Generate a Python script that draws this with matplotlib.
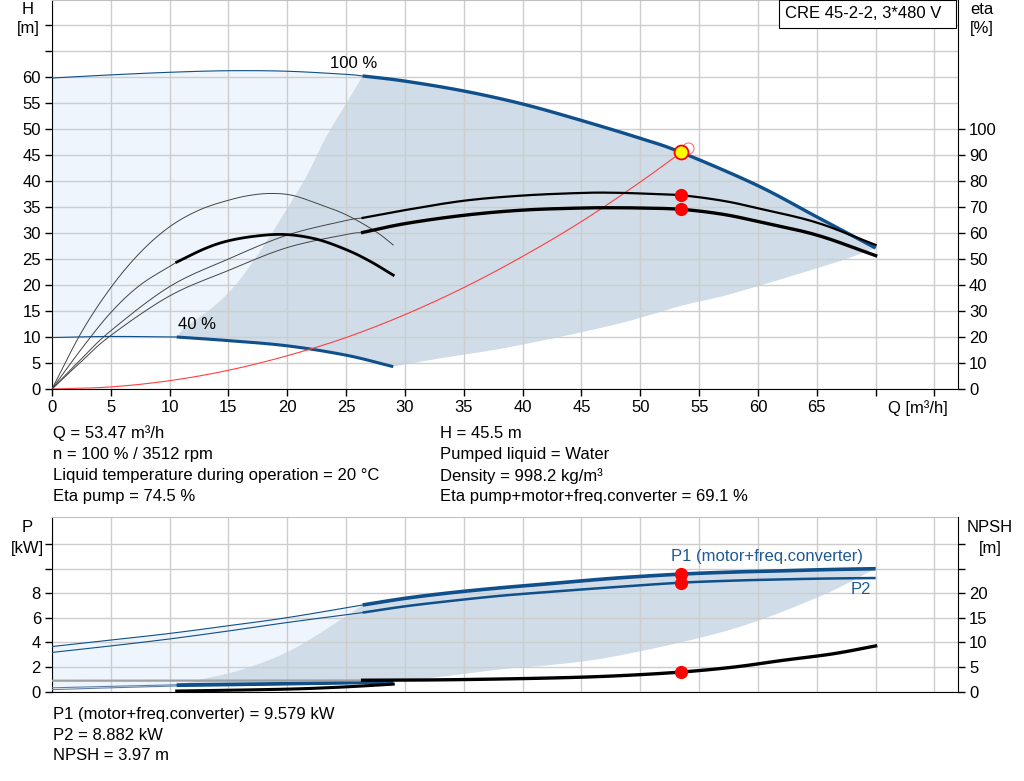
import matplotlib
matplotlib.use("Agg")
import matplotlib.pyplot as plt
from matplotlib.patches import Rectangle
import numpy as np

plt.rcParams['font.family'] = ['Liberation Sans', 'DejaVu Sans']

# ---------------- data: top chart (Q in m3/h, H in m, eta in %) ----------------
qh100_thin_q = [0, 5, 10, 15, 20, 25, 26.4]
qh100_thin_h = [59.8, 60.4, 60.9, 61.2, 61.1, 60.5, 60.2]
qh100_q = [26.4, 30, 35, 40, 44.9, 50, 53.47, 59.9, 65, 70]
qh100_h = [60.2, 59.2, 57.3, 54.8, 51.7, 48.2, 45.5, 39.2, 33.1, 27.1]

qh40_thin_q = [0, 5, 10.6]
qh40_thin_h = [9.9, 10.1, 10.0]
qh40_q = [10.6, 15, 20, 25, 29]
qh40_h = [10.0, 9.3, 8.3, 6.5, 4.3]

minflow_q = [10.6, 11.4, 13.7, 15.7, 17.95, 19.9, 21.6, 23.3, 25.0, 26.4]
minflow_h = [10.0, 12.0, 15.8, 20.3, 27.4, 34.4, 40.8, 48.5, 54.9, 60.2]
maxflow_q = [29, 33, 39, 47.7, 53.5, 57.9, 66.4, 70]
maxflow_h = [4.3, 5.9, 8.1, 12.3, 16.0, 18.4, 24.2, 27.1]

etap100_thin_q = [0, 2.5, 5, 10, 15, 20, 25, 26.4]
etap100_thin = [0, 11.6, 22.4, 39.4, 50.0, 59.2, 64.8, 65.8]
etap100_q = [26.4, 30, 35, 40, 45, 47.5, 50, 53.47, 57, 60, 65, 70]
etap100 = [65.8, 68.8, 72.4, 74.4, 75.4, 75.5, 75.2, 74.5, 72.4, 69.5, 64.0, 55.4]

etat100_thin_q = [0, 2.5, 5, 10, 15, 20, 25, 26.4]
etat100_thin = [0, 10.6, 20.6, 35.8, 45.6, 54.4, 59.4, 60.2]
etat100_q = [26.4, 30, 35, 40, 45, 47.5, 50, 53.47, 57, 60, 65, 70]
etat100 = [60.2, 63.6, 66.8, 68.8, 69.6, 69.7, 69.6, 69.1, 67.2, 64.4, 59.2, 51.3]

etap40_q = [0, 2.5, 5, 7.5, 10, 12.5, 15, 17, 18.8, 20.5, 22.5, 25, 27.5, 29]
etap40 = [0, 21.8, 39.0, 52.5, 62.4, 68.8, 72.6, 74.6, 75.2, 74.4, 71.4, 67.0, 60.6, 55.4]

etat40_thin_q = [0, 2.5, 5, 7.5, 10.6]
etat40_thin = [0, 15.4, 29.4, 40.0, 48.8]
etat40_q = [10.6, 13, 15, 17.5, 19.9, 22.5, 25, 27, 29]
etat40 = [48.8, 54.0, 57.0, 58.9, 59.4, 57.6, 53.6, 49.2, 43.8]

sys_q = [0, 5, 10, 15, 20, 25, 30, 35, 40, 45, 50, 53.47, 53.9]
sys_h = [0, 0.4, 1.6, 3.6, 6.4, 9.9, 14.3, 19.5, 25.5, 32.2, 39.8, 45.5, 46.2]

op_q = 53.47
op_h = 45.5
op_eta_pump = 74.5
op_eta_total = 69.1

# ---------------- data: bottom chart (P in kW, NPSH in m) ----------------
p1_thin_q = [0, 5, 10, 15, 20, 26.4]
p1_thin = [3.67, 4.2, 4.74, 5.37, 6.03, 7.06]
p1_q = [26.4, 30, 33.8, 38, 42.3, 48, 53.47, 58, 62.1, 66, 70]
p1 = [7.06, 7.6, 8.05, 8.45, 8.8, 9.26, 9.58, 9.75, 9.85, 9.95, 10.02]

p2_thin_q = [0, 5, 10, 15, 20, 26.4]
p2_thin = [3.19, 3.72, 4.29, 4.94, 5.63, 6.44]
p2_q = [26.4, 30, 33.8, 38, 42.3, 48, 53.47, 58, 62.1, 66, 70]
p2 = [6.44, 6.95, 7.38, 7.8, 8.13, 8.53, 8.88, 9.05, 9.15, 9.22, 9.26]

p1_40_thin_q = [0, 5, 10.6]
p1_40_thin = [0.3, 0.42, 0.55]
p1_40_q = [10.6, 20, 29]
p1_40 = [0.55, 0.66, 0.8]
p2_40_thin_q = [0, 5, 10.6]
p2_40_thin = [0.15, 0.3, 0.45]
p2_40_q = [10.6, 20, 29]
p2_40 = [0.45, 0.58, 0.72]

pmin_q = [10.6, 14.3, 16, 17.7, 19.5, 21.5, 24.6, 26.4]
pmin_p = [0.55, 1.33, 1.75, 2.3, 3.0, 4.0, 5.9, 7.06]
pmax_q = [29, 33, 39, 42.3, 48, 57.5, 65, 70]
pmax_p = [0.8, 1.2, 1.9, 2.15, 2.9, 5.0, 7.65, 10.02]

npsh_thin_q = [0, 26.4]
npsh_thin = [2.2, 2.25]
npsh_q = [26.4, 33.8, 42.3, 48, 53.47, 58, 62.1, 66.4, 70]
npsh = [2.3, 2.4, 2.75, 3.2, 3.97, 5.0, 6.35, 7.7, 9.3]
npsh40_q = [10.6, 16, 21, 25, 29]
npsh40 = [0.1, 0.3, 0.55, 0.95, 1.5]

op_p1 = 9.579
op_p2 = 8.882
op_npsh = 3.97

x_ticks = list(range(0, 80, 5))
x_labels = [str(v) if v <= 65 else '' for v in x_ticks]
h_ticks = list(range(0, 75, 5))
h_labels = [str(v) if v <= 60 else '' for v in h_ticks]
eta_ticks = list(range(0, 110, 10))
p_ticks = list(range(0, 14, 2))
p_labels = [str(v) if v <= 8 else '' for v in p_ticks]
npsh_ticks = list(range(0, 35, 5))
npsh_labels = [str(v) if v <= 20 else '' for v in npsh_ticks]

# ---------------- styles ----------------
BLUE = '#0f4f8a'
LIGHT = '#eef5fc'
GRAY = '#d0dce8'
GRID = '#cdcdcd'
FS = 12
W, H = 1024, 781


def smooth(x, y, n=12):
    """Catmull-Rom path through the read points (drawing only)."""
    x = np.asarray(x, float)
    y = np.asarray(y, float)
    if len(x) < 3:
        return x, y
    px = np.concatenate([[2 * x[0] - x[1]], x, [2 * x[-1] - x[-2]]])
    py = np.concatenate([[2 * y[0] - y[1]], y, [2 * y[-1] - y[-2]]])
    t = np.linspace(0, 1, n, endpoint=False)
    ox, oy = [], []
    for i in range(1, len(px) - 2):
        for arr, out in ((px, ox), (py, oy)):
            p0, p1_, p2_, p3 = arr[i - 1], arr[i], arr[i + 1], arr[i + 2]
            out.extend(0.5 * ((2 * p1_) + (-p0 + p2_) * t +
                              (2 * p0 - 5 * p1_ + 4 * p2_ - p3) * t ** 2 +
                              (-p0 + 3 * p1_ - 3 * p2_ + p3) * t ** 3))
    ox.append(x[-1])
    oy.append(y[-1])
    return np.array(ox), np.array(oy)


fig = plt.figure(figsize=(W / 100, H / 100), dpi=100)


def fx(px):
    return px / W


def fy(py):
    return 1 - py / H


def sm(x, y):
    return smooth(x, y)


# ---------------- top chart ----------------
ax1 = fig.add_axes([fx(52), fy(389), fx(906), 389 / H])
ax1.set_xlim(0, 77.0)
ax1.set_ylim(0, 74.8)
ax1.set_axisbelow(True)
ax1.grid(True, color=GRID, lw=1.0)
ax1.set_xticks(x_ticks)
ax1.set_xticklabels(x_labels, fontsize=FS)
ax1.set_yticks(h_ticks)
ax1.set_yticklabels(h_labels, fontsize=FS)
ax1.tick_params(direction='out', length=5, width=1, color='black', pad=3)
for s in ['left', 'bottom']:
    ax1.spines[s].set_color('black')
ax1.spines['top'].set_color('#c0c0c0')
ax1.spines['right'].set_visible(False)

a, b = sm(qh100_thin_q, qh100_thin_h)
c, d = sm(minflow_q, minflow_h)
e, f = sm(qh40_thin_q, qh40_thin_h)
ax1.fill(np.concatenate([a, c[::-1], e[::-1]]), np.concatenate([b, d[::-1], f[::-1]]),
         color=LIGHT, lw=0, zorder=0.2)
g, h = sm(qh100_q, qh100_h)
i_, j_ = sm(maxflow_q, maxflow_h)
k, l = sm(qh40_q, qh40_h)
ax1.fill(np.concatenate([g, i_[::-1], k[::-1], c]), np.concatenate([h, j_[::-1], l[::-1], d]),
         color=GRAY, lw=0, zorder=0.3)

ax1.plot(*sm(qh100_thin_q, qh100_thin_h), color=BLUE, lw=0.8, zorder=3)
ax1.plot(*sm(qh100_q, qh100_h), color=BLUE, lw=2.4, zorder=3, solid_capstyle='butt')
ax1.plot(*sm(qh40_thin_q, qh40_thin_h), color=BLUE, lw=0.8, zorder=3)
ax1.plot(*sm(qh40_q, qh40_h), color=BLUE, lw=2.2, zorder=3, solid_capstyle='butt')
ax1.plot(*sm(sys_q, sys_h), color='#ff4040', lw=0.8, zorder=4)
ax1.plot([op_q + 0.55], [op_h + 0.8], 'o', ms=8, mfc='none', mec='#ff7070', mew=0.8, zorder=5)
ax1.plot([op_q], [op_h], 'o', ms=10, mfc='#ffff00', mec='#ff0000', mew=1.3, zorder=6)

ax1.text(25.6, 62.6, '100 %', fontsize=FS, ha='center', va='center')
ax1.text(12.3, 12.4, '40 %', fontsize=FS, ha='center', va='center')

axr = ax1.twinx()
axr.set_ylim(0, 2 * 74.8)
axr.set_yticks(eta_ticks)
axr.set_yticklabels([str(v) for v in eta_ticks], fontsize=FS)
axr.tick_params(direction='out', length=5, width=1, color='black', pad=3)
axr.spines['right'].set_color('black')
for s in ['left', 'top', 'bottom']:
    axr.spines[s].set_visible(False)

axr.plot(*sm(etap100_thin_q, etap100_thin), color='#444444', lw=0.7)
axr.plot(*sm(etat100_thin_q, etat100_thin), color='#444444', lw=0.7)
axr.plot(*sm(etap40_q, etap40), color='#444444', lw=0.7)
axr.plot(*sm(etat40_thin_q, etat40_thin), color='#444444', lw=0.7)
axr.plot(*sm(etap100_q, etap100), color='black', lw=1.6)
axr.plot(*sm(etat100_q, etat100), color='black', lw=2.4)
axr.plot(*sm(etat40_q, etat40), color='black', lw=2.0)
axr.plot([op_q, op_q], [op_eta_pump, op_eta_total], 'o', ms=8.5, color='#ff0000', mec='#ff0000', ls='none')

fig.text(fx(28), fy(9), 'H', fontsize=FS, ha='center', va='center')
fig.text(fx(28), fy(28), '[m]', fontsize=FS, ha='center', va='center')
fig.text(fx(982), fy(9), 'eta', fontsize=FS, ha='center', va='center')
fig.text(fx(982), fy(28), '[%]', fontsize=FS, ha='center', va='center')
fig.text(fx(888), fy(408), 'Q [m³/h]', fontsize=FS, ha='left', va='center')

fig.patches.append(Rectangle((fx(779), fy(28)), fx(956 - 779), 28 / H, transform=fig.transFigure,
                             facecolor='white', edgecolor='black', lw=0.8, zorder=10))
fig.text(fx(863), fy(14), 'CRE 45-2-2, 3*480 V', fontsize=12, ha='center', va='center', zorder=11)

info_left = ['Q = 53.47 m³/h', 'n = 100 % / 3512 rpm',
             'Liquid temperature during operation = 20 °C', 'Eta pump = 74.5 %']
info_right = ['H = 45.5 m', 'Pumped liquid = Water', 'Density = 998.2 kg/m³',
              'Eta pump+motor+freq.converter = 69.1 %']
for i, (ta, tb) in enumerate(zip(info_left, info_right)):
    yy = 433 + i * 21.3
    fig.text(fx(53), fy(yy), ta, fontsize=FS, ha='left', va='center')
    fig.text(fx(440), fy(yy), tb, fontsize=FS, ha='left', va='center')

# ---------------- bottom chart ----------------
ax2 = fig.add_axes([fx(52), fy(691.5), fx(906), 174.5 / H])
ax2.set_xlim(0, 77.0)
ax2.set_ylim(0, 14.24)
ax2.set_axisbelow(True)
ax2.grid(True, color=GRID, lw=1.0)
ax2.set_xticks(x_ticks)
ax2.set_xticklabels([''] * len(x_ticks))
ax2.tick_params(axis='x', length=0)
ax2.set_yticks(p_ticks)
ax2.set_yticklabels(p_labels, fontsize=FS)
ax2.tick_params(axis='y', direction='out', length=5, width=1, color='black', pad=3)
ax2.spines['left'].set_color('black')
ax2.spines['bottom'].set_color('black')
ax2.spines['top'].set_color('#c0c0c0')
ax2.spines['right'].set_visible(False)

a, b = sm(p1_thin_q, p1_thin)
c, d = sm(pmin_q, pmin_p)
e, f = sm(p1_40_thin_q, p1_40_thin)
ax2.fill(np.concatenate([a, c[::-1], e[::-1]]), np.concatenate([b, d[::-1], f[::-1]]),
         color=LIGHT, lw=0, zorder=0.2)
g, h = sm(p1_q, p1)
i_, j_ = sm(pmax_q, pmax_p)
k, l = sm(p1_40_q, p1_40)
ax2.fill(np.concatenate([g, i_[::-1], k[::-1], c]), np.concatenate([h, j_[::-1], l[::-1], d]),
         color=GRAY, lw=0, zorder=0.3)

ax2.plot(*sm(p1_thin_q, p1_thin), color=BLUE, lw=0.8, zorder=3)
ax2.plot(*sm(p2_thin_q, p2_thin), color=BLUE, lw=0.8, zorder=3)
ax2.plot(*sm(p1_q, p1), color=BLUE, lw=2.6, zorder=3, solid_capstyle='butt')
ax2.plot(*sm(p2_q, p2), color=BLUE, lw=1.8, zorder=3, solid_capstyle='butt')
ax2.plot(*sm(p1_40_thin_q, p1_40_thin), color='#5d7fa6', lw=0.8, zorder=3)
ax2.plot(*sm(p2_40_thin_q, p2_40_thin), color='#5d7fa6', lw=0.8, zorder=3)
ax2.plot(*sm(p1_40_q, p1_40), color=BLUE, lw=2.2, zorder=3, solid_capstyle='butt')
ax2.plot(*sm(p2_40_q, p2_40), color=BLUE, lw=1.6, zorder=3, solid_capstyle='butt')
ax2.plot([op_q, op_q], [op_p1, op_p2], 'o', ms=8.5, color='#ff0000', zorder=6, ls='none')

ax2.text((767 - 52) / 906, 1 - (556 - 517) / 174.5, 'P1 (motor+freq.converter)',
         transform=ax2.transAxes, fontsize=FS, color='#1f5a94', ha='center', va='center')
ax2.text((861 - 52) / 906, 1 - (590 - 517) / 174.5, 'P2',
         transform=ax2.transAxes, fontsize=FS, color='#1f5a94', ha='center', va='center')

axn = ax2.twinx()
axn.set_ylim(0, 14.24 * 2.5)
axn.set_yticks(npsh_ticks)
axn.set_yticklabels(npsh_labels, fontsize=FS)
axn.tick_params(direction='out', length=5, width=1, color='black', pad=3)
axn.spines['right'].set_color('black')
for s in ['left', 'top', 'bottom']:
    axn.spines[s].set_visible(False)
axn.plot(npsh_thin_q, npsh_thin, color='#a0a0a0', lw=1.6)
axn.plot(*sm(npsh_q, npsh), color='black', lw=2.4)
axn.plot(*sm(npsh40_q, npsh40), color='black', lw=2.2)
axn.plot([op_q], [op_npsh], 'o', ms=8.5, color='#ff0000')

fig.text(fx(27), fy(527), 'P', fontsize=FS, ha='center', va='center')
fig.text(fx(27), fy(548), '[kW]', fontsize=FS, ha='center', va='center')
fig.text(fx(990), fy(527), 'NPSH', fontsize=FS, ha='center', va='center')
fig.text(fx(990), fy(548), '[m]', fontsize=FS, ha='center', va='center')

info_bottom = ['P1 (motor+freq.converter) = 9.579 kW', 'P2 = 8.882 kW', 'NPSH = 3.97 m']
for i, t in enumerate(info_bottom):
    fig.text(fx(53), fy(714 + i * 21), t, fontsize=FS, ha='left', va='center')

fig.savefig('out.png', dpi=100)
